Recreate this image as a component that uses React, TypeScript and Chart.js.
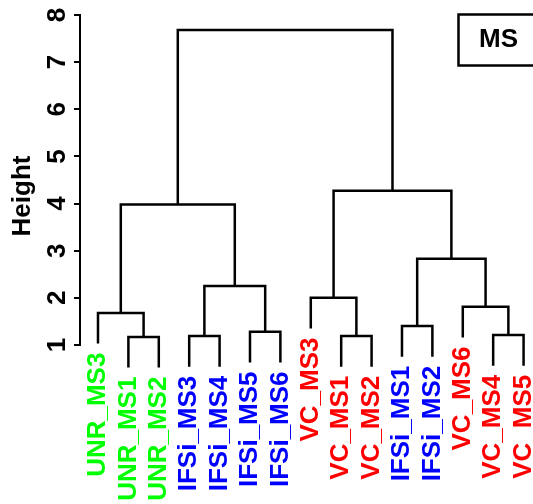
import React, { useEffect, useRef } from "react";
import { Chart, registerables } from "chart.js";

Chart.register(...registerables);

// Leaves in display order (left to right)
const leafLabels = [
  "UNR_MS3", "UNR_MS1", "UNR_MS2",
  "IFSi_MS3", "IFSi_MS4", "IFSi_MS5", "IFSi_MS6",
  "VC_MS3", "VC_MS1", "VC_MS2",
  "IFSi_MS1", "IFSi_MS2",
  "VC_MS6", "VC_MS4", "VC_MS5",
];
const leafGroups = [
  "UNR", "UNR", "UNR",
  "IFSi", "IFSi", "IFSi", "IFSi",
  "VC", "VC", "VC",
  "IFSi", "IFSi",
  "VC", "VC", "VC",
];
const groupColors: Record<string, string> = { UNR: "#00FF00", IFSi: "#0000FF", VC: "#FF0000" };

// Merge table (R hclust style): negative = leaf position (1-based), positive = earlier merge (1-based)
const mergeLeft = [-2, -4, -9, -14, -6, -11, -1, -13, -8, 2, 6, 7, 9, 12];
const mergeRight = [-3, -5, -10, -15, -7, -12, 1, 4, 3, 5, 8, 10, 11, 13];
const mergeHeights = [1.17, 1.19, 1.19, 1.21, 1.28, 1.40, 1.68, 1.81, 2.00, 2.25, 2.83, 3.98, 4.27, 7.68];

const yTickValues = [1, 2, 3, 4, 5, 6, 7, 8];
const yTitle = "Height";
const legendText = "MS";

const FONT_FAMILY = '"Liberation Sans", Arial, Helvetica, sans-serif';

function buildDendrogram() {
  const hang = 0.1 * (Math.max(...mergeHeights) - Math.min(...mergeHeights));
  const mergeX: number[] = [];
  const leafEnds: number[] = new Array(leafLabels.length).fill(0);
  const segments: { x: number; y: number }[][] = [];
  const cx = (c: number) => (c < 0 ? -c : mergeX[c - 1]);
  for (let k = 0; k < mergeHeights.length; k++) {
    const h = mergeHeights[k];
    const l = mergeLeft[k];
    const r = mergeRight[k];
    const bottom = (c: number) => {
      if (c < 0) {
        leafEnds[-c - 1] = h - hang;
        return h - hang;
      }
      return mergeHeights[c - 1];
    };
    const xl = cx(l);
    const xr = cx(r);
    const bl = bottom(l);
    const br = bottom(r);
    mergeX.push((xl + xr) / 2);
    segments.push([
      { x: xl, y: bl },
      { x: xl, y: h },
      { x: xr, y: h },
      { x: xr, y: br },
    ]);
  }
  return { segments, leafEnds };
}

export default function App() {
  const canvasRef = useRef<HTMLCanvasElement | null>(null);

  useEffect(() => {
    const canvas = canvasRef.current;
    if (!canvas) return;
    const { segments, leafEnds } = buildDendrogram();

    const decorPlugin = {
      id: "dendroDecor",
      afterDraw(chart: any) {
        const ctx = chart.ctx as CanvasRenderingContext2D;
        const xs = chart.scales.x;
        const ys = chart.scales.y;
        const area = chart.chartArea;
        ctx.save();
        // axis line spanning first..last tick (R style)
        ctx.strokeStyle = "#000";
        ctx.lineWidth = 2;
        ctx.beginPath();
        ctx.moveTo(area.left, ys.getPixelForValue(yTickValues[0]) + 1);
        ctx.lineTo(area.left, ys.getPixelForValue(yTickValues[yTickValues.length - 1]) - 1);
        ctx.stroke();

        // leaf labels
        ctx.font = `bold 26px ${FONT_FAMILY}`;
        ctx.textAlign = "right";
        ctx.textBaseline = "middle";
        leafLabels.forEach((lab, i) => {
          const px = xs.getPixelForValue(i + 1);
          const py = ys.getPixelForValue(leafEnds[i]) + 9;
          ctx.save();
          ctx.translate(px, py);
          ctx.rotate(-Math.PI / 2);
          ctx.fillStyle = groupColors[leafGroups[i]];
          ctx.fillText(lab, 0, 0);
          ctx.restore();
        });

        // legend box (top right)
        const bx = chart.width - 74.5;
        ctx.lineWidth = 2.5;
        ctx.strokeStyle = "#000";
        ctx.strokeRect(bx, 14.5, 110, 51);
        ctx.fillStyle = "#000";
        ctx.textAlign = "center";
        ctx.textBaseline = "middle";
        ctx.font = `bold 26px ${FONT_FAMILY}`;
        ctx.fillText(legendText, bx + 40, 39.5);
        ctx.restore();
      },
    };

    const chart = new Chart(canvas, {
      type: "scatter",
      data: {
        datasets: segments.map((seg) => ({
          data: seg,
          showLine: true,
          borderColor: "#000",
          borderWidth: 2.5,
          pointRadius: 0,
          pointHoverRadius: 0,
          fill: false,
          tension: 0,
          borderJoinStyle: "miter" as const,
          borderCapStyle: "butt" as const,
        })),
      },
      options: {
        animation: false,
        responsive: false,
        devicePixelRatio: 1,
        events: [],
        layout: { padding: { top: 15, bottom: 127, left: 0, right: 0 } },
        plugins: {
          legend: { display: false },
          tooltip: { enabled: false },
        },
        scales: {
          x: {
            type: "linear",
            min: 0.408,
            max: 15.31,
            display: false,
          },
          y: {
            type: "linear",
            min: 0.32,
            max: 8,
            afterBuildTicks: (scale: any) => {
              scale.ticks = yTickValues.map((v) => ({ value: v }));
            },
            afterFit: (scale: any) => {
              scale.width = 80;
              scale.paddingTop = 0;
              scale.paddingBottom = 0;
            },
            ticks: {
              minRotation: 90,
              maxRotation: 90,
              crossAlign: "center",
              padding: 9,
              color: "#000",
              font: { family: FONT_FAMILY, size: 26, weight: "bold" },
            },
            grid: {
              display: true,
              drawOnChartArea: false,
              drawTicks: true,
              tickLength: 6,
              color: "#000",
              lineWidth: 2,
            },
            border: { display: false },
            title: {
              display: true,
              text: yTitle,
              color: "#000",
              font: { family: FONT_FAMILY, size: 26, weight: "bold" },
              padding: { top: 7, bottom: 0 },
            },
          },
        },
      },
      plugins: [decorPlugin],
    } as any);

    return () => chart.destroy();
  }, []);

  return (
    <div style={{ position: "fixed", left: 0, top: 0, width: 533, height: 504, background: "#fff" }}>
      <canvas ref={canvasRef} width={533} height={504} />
    </div>
  );
}
